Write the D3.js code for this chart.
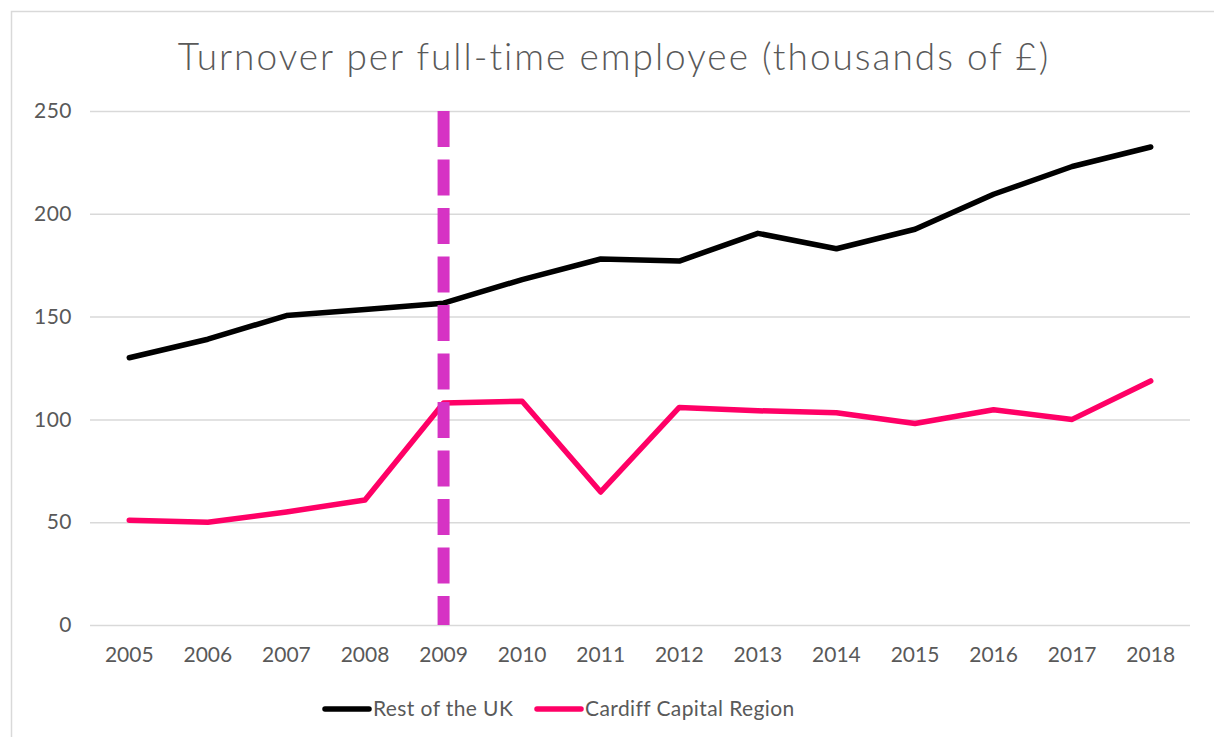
<!DOCTYPE html>
<html>
<head>
<meta charset="utf-8">
<script src="https://cdn.jsdelivr.net/npm/d3@7/dist/d3.min.js"></script>
<style>
  body { margin: 0; background: #fff; }
  svg { display: block; font-family: "Lato", "DejaVu Sans", sans-serif; }
</style>
</head>
<body>
<svg id="chart" width="1214" height="737"></svg>
<script>
const years = ['2005', '2006', '2007', '2008', '2009', '2010', '2011', '2012', '2013', '2014', '2015', '2016', '2017', '2018'];
const restOfUK = [130, 139, 150.5, 153.5, 156.5, 168, 178, 177, 190.5, 183, 192.5, 209.5, 223, 232.5];
const cardiff = [51, 50, 55, 60.8, 108, 108.8, 64.7, 105.8, 104.2, 103.2, 98, 104.7, 100, 118.7];
const yTicks = [0, 50, 100, 150, 200, 250];
const markerYear = '2009';

const seriesList = [
  { name: 'Rest of the UK', values: restOfUK, color: '#000000' },
  { name: 'Cardiff Capital Region', values: cardiff, color: '#ff0066' }
];

const svg = d3.select('#chart');
const margin = { top: 111, left: 90, right: 24, bottom: 112 };
const width = 1214 - margin.left - margin.right;
const height = 737 - margin.top - margin.bottom;

// outer chart border
svg.append('rect')
  .attr('x', 11.5).attr('y', 11.5)
  .attr('width', 1230).attr('height', 760)
  .attr('fill', 'none').attr('stroke', '#d9d9d9').attr('stroke-width', 1.5);

svg.append('text')
  .attr('x', 614).attr('y', 70)
  .attr('text-anchor', 'middle')
  .attr('font-size', 37)
  .attr('font-weight', 300)
  .attr('letter-spacing', 2)
  .attr('fill', '#595959')
  .text('Turnover per full-time employee (thousands of £)');

const g = svg.append('g').attr('transform', `translate(${margin.left},${margin.top})`);

const x = d3.scaleBand().domain(years).range([0, width]);
const y = d3.scaleLinear().domain([0, 250]).range([height, 0]);

// horizontal grid
g.append('g')
  .call(d3.axisRight(y).tickValues(yTicks).tickSize(width).tickFormat(''))
  .call(ax => ax.select('.domain').remove())
  .call(ax => ax.selectAll('line').attr('stroke', '#d9d9d9').attr('stroke-width', 1.5));

// y labels
g.append('g')
  .call(d3.axisLeft(y).tickValues(yTicks).tickSize(0).tickPadding(18))
  .call(ax => ax.select('.domain').remove())
  .call(ax => ax.selectAll('text').attr('font-size', 21).attr('letter-spacing', 0.5).attr('fill', '#595959').attr('font-family', 'Lato, sans-serif'));

// x labels
g.append('g')
  .attr('transform', `translate(0,${height})`)
  .call(d3.axisBottom(x).tickSize(0).tickPadding(22))
  .call(ax => ax.select('.domain').remove())
  .call(ax => ax.selectAll('text').attr('font-size', 21).attr('fill', '#595959').attr('font-family', 'Lato, sans-serif'));

const line = d3.line()
  .x((d, i) => x(years[i]) + x.bandwidth() / 2)
  .y(d => y(d));

seriesList.forEach(s => {
  g.append('path')
    .datum(s.values)
    .attr('d', line)
    .attr('fill', 'none')
    .attr('stroke', s.color)
    .attr('stroke-width', 5.5)
    .attr('stroke-linejoin', 'round')
    .attr('stroke-linecap', 'round');
});

// dashed marker at 2009
const mx = x(markerYear) + x.bandwidth() / 2;
g.append('line')
  .attr('x1', mx).attr('x2', mx)
  .attr('y1', y(250)).attr('y2', y(0))
  .attr('stroke', '#d633c4')
  .attr('stroke-width', 12)
  .attr('stroke-dasharray', '36,12.5');

// legend
const legend = svg.append('g').attr('transform', 'translate(0,709)');
const legendX = [325, 537];
seriesList.forEach((s, i) => {
  const lg = legend.append('g').attr('transform', `translate(${legendX[i]},0)`);
  lg.append('line')
    .attr('x1', 0).attr('x2', 44)
    .attr('stroke', s.color).attr('stroke-width', 5.5).attr('stroke-linecap', 'round');
  lg.append('text')
    .attr('x', 48).attr('dy', '0.35em')
    .attr('font-size', 21).attr('letter-spacing', 0.4).attr('fill', '#595959')
    .text(s.name);
});
</script>
</body>
</html>
